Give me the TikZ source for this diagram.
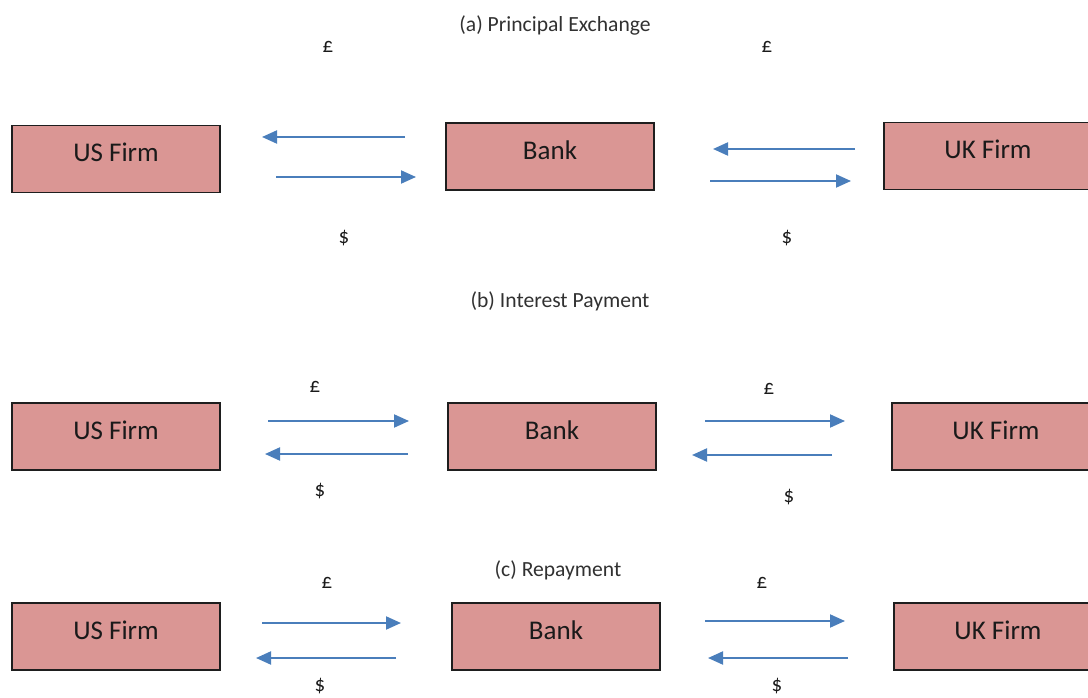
\documentclass[tikz,border=0pt]{standalone}
\usepackage{fontspec}
\setmainfont{Carlito}
\usetikzlibrary{arrows.meta}
\definecolor{boxfill}{HTML}{DA9694}
\definecolor{boxline}{HTML}{1E1E1E}
\definecolor{arrowblue}{HTML}{4A7EBB}
\definecolor{txt}{HTML}{1A1A1A}
\tikzset{
  firm/.style={draw=boxline, line width=1.6pt, fill=boxfill, rectangle,
    minimum width=208pt, minimum height=67pt, inner sep=0pt,
    text=txt, font=\fontsize{27}{30}\selectfont, text height=12pt, text depth=6.2pt},
  flow/.style={draw=arrowblue, line width=2pt, -{Triangle[length=15pt,width=13pt]}},
  cur/.style={text=txt, font=\fontsize{21}{25}\selectfont, inner sep=0pt},
  ttl/.style={text=txt!90, font=\fontsize{21.6}{25}\selectfont, inner sep=0pt}
}
\begin{document}
\begin{tikzpicture}[x=1pt,y=-1pt]
\useasboundingbox (0,0) rectangle (1088,698);
\clip (0,0) rectangle (1088,698);
% ---------- (a) ----------
\node[ttl] (ta) at (555,25) {(a) Principal Exchange};
\node[firm] (usa) at (116,159) {US Firm};
\node[firm] (banka) at (550,156.5) {Bank};
\node[firm] (uka) at (988,156) {UK Firm};
\coordinate (a1s) at (405,137); \coordinate (a1e) at (262,137);
\coordinate (a2s) at (276,177); \coordinate (a2e) at (416,177);
\coordinate (a3s) at (855,149); \coordinate (a3e) at (713,149);
\coordinate (a4s) at (710,181); \coordinate (a4e) at (851,181);
\draw[flow] (a1s) -- (a1e);
\draw[flow] (a2s) -- (a2e);
\draw[flow] (a3s) -- (a3e);
\draw[flow] (a4s) -- (a4e);
\node[cur] (pa1) at (328,47) {£};
\node[cur] (da1) at (344,238) {\$};
\node[cur] (pa2) at (767,47) {£};
\node[cur] (da2) at (787,238) {\$};
% ---------- (b) ----------
\node[ttl] (tb) at (560,301) {(b) Interest Payment};
\node[firm] (usb) at (116,436.5) {US Firm};
\node[firm] (bankb) at (552,436.5) {Bank};
\node[firm] (ukb) at (996,436.5) {UK Firm};
\coordinate (b1s) at (268,421); \coordinate (b1e) at (409,421);
\coordinate (b2s) at (408,454); \coordinate (b2e) at (265,454);
\coordinate (b3s) at (705,421); \coordinate (b3e) at (845,421);
\coordinate (b4s) at (832,455); \coordinate (b4e) at (692,455);
\draw[flow] (b1s) -- (b1e);
\draw[flow] (b2s) -- (b2e);
\draw[flow] (b3s) -- (b3e);
\draw[flow] (b4s) -- (b4e);
\node[cur] (pb1) at (315,387) {£};
\node[cur] (db1) at (320,491) {\$};
\node[cur] (pb2) at (769,389) {£};
\node[cur] (db2) at (789,497) {\$};
% ---------- (c) ----------
\node[ttl] (tc) at (558,570) {(c) Repayment};
\node[firm] (usc) at (116,636.5) {US Firm};
\node[firm] (bankc) at (556,636.5) {Bank};
\node[firm] (ukc) at (998,636.5) {UK Firm};
\coordinate (c1s) at (262,623); \coordinate (c1e) at (401,623);
\coordinate (c2s) at (396,658); \coordinate (c2e) at (256,658);
\coordinate (c3s) at (705,621); \coordinate (c3e) at (845,621);
\coordinate (c4s) at (848,658); \coordinate (c4e) at (708,658);
\draw[flow] (c1s) -- (c1e);
\draw[flow] (c2s) -- (c2e);
\draw[flow] (c3s) -- (c3e);
\draw[flow] (c4s) -- (c4e);
\node[cur] (pc1) at (327,583) {£};
\node[cur] (dc1) at (320,686) {\$};
\node[cur] (pc2) at (762,583) {£};
\node[cur] (dc2) at (777,686) {\$};
\end{tikzpicture}
\end{document}
